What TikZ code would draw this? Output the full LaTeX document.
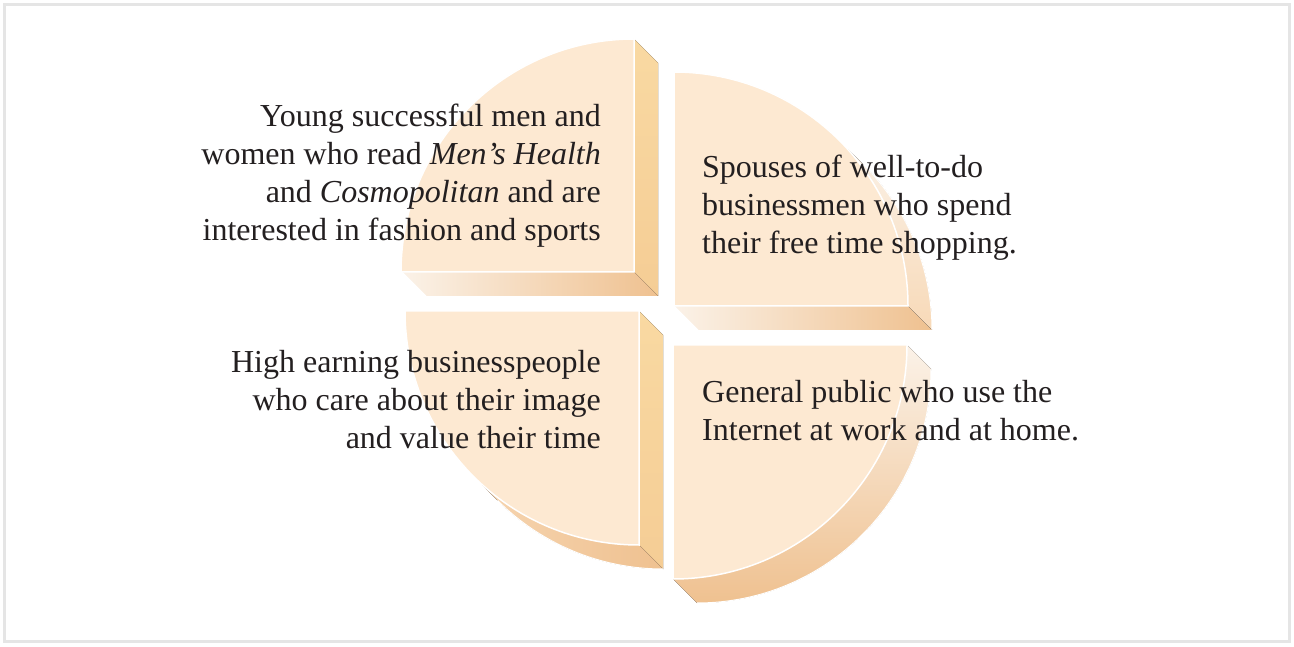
\documentclass[tikz,border=0pt]{standalone}
\usepackage{fontspec}
\setmainfont{Liberation Serif}
\usepackage{xcolor}
\usepackage{tikz}
\usetikzlibrary{calc}
\definecolor{qFace}{HTML}{FDE9D2}
\definecolor{qSideV}{HTML}{F9D9A2}
\definecolor{qSideVDark}{HTML}{F5CD95}
\definecolor{qDark}{HTML}{EFC190}
\definecolor{qPale}{HTML}{FBF2E8}
\definecolor{qText}{HTML}{231F20}
\definecolor{frameGray}{HTML}{E5E5E5}

\begin{document}
\begin{tikzpicture}[x=1pt,y=1pt,
  face/.style={fill=qFace,draw=white,line width=1.5pt,line join=miter},
  sidev/.style={top color=qSideV,bottom color=qSideVDark,draw=none},
  sideh/.style={left color=qPale,right color=qDark,draw=none},
  band/.style={top color=qPale,bottom color=qDark,draw=none},
  rim/.style={draw=white,line width=1pt},
  segtext/.style={font=\fontsize{32}{38}\selectfont,text=qText,inner sep=0pt}
]
\useasboundingbox (0,0) rectangle (1294,646);
\draw[frameGray,line width=2.5pt] (4.5,4.5) rectangle (1289.5,641.5);

% corners of the four quarters
\coordinate (tl) at (634,374);
\coordinate (tr) at (674,340);
\coordinate (bl) at (639,335);
\coordinate (br) at (673,301);

% top left
\fill[sidev] ($(tl)+(0,233)$) -- ++(24,-24) -- ($(tl)+(24,-24)$) -- (tl) -- cycle;
\fill[sideh] ($(tl)+(-232,0)$) -- (tl) -- ++(24,-24) -- ($(tl)+(-208,-24)$) -- cycle;
\draw[rim] ($(tl)+(-232,0)$) -- ($(tl)+(-208,-24)$);
\draw[face] (tl) -- ($(tl)+(0,233)$) arc[start angle=90,end angle=180,radius=233] -- cycle;

% top right
\fill[sideh] (tr) -- ($(tr)+(234,0)$) -- ++(24,-24) -- ($(tr)+(24,-24)$) -- cycle;
\draw[rim] (tr) -- ($(tr)+(24,-24)$);
\fill[top color=qPale,bottom color=qFace!60!qDark] ($(tr)+(45:234)$) arc[start angle=45,end angle=0,radius=234]
  -- ++(24,-24) arc[start angle=0,end angle=45,radius=234] -- cycle;
\draw[rim] ($(tr)+(258,-24)$) arc[start angle=0,end angle=45,radius=234];
\draw[face] (tr) -- ($(tr)+(0,234)$) arc[start angle=90,end angle=0,radius=234] -- cycle;

% bottom left
\fill[sidev] (bl) -- ++(24,-24) -- ($(bl)+(24,-258)$) -- ($(bl)+(0,-234)$) -- cycle;
\fill[left color=qFace!50!qDark,right color=qDark] ($(bl)+(225:234)$) arc[start angle=225,end angle=270,radius=234]
  -- ++(24,-24) arc[start angle=270,end angle=225,radius=234] -- cycle;
\draw[rim] ($(bl)+(24,-258)$) arc[start angle=270,end angle=225,radius=234];
\draw[face] (bl) -- ($(bl)+(0,-234)$) arc[start angle=270,end angle=180,radius=234] -- cycle;

% bottom right
\fill[band] ($(br)+(234,0)$) arc[start angle=0,end angle=-90,radius=234]
  -- ++(24,-24) arc[start angle=-90,end angle=0,radius=234] -- cycle;
\draw[rim] ($(br)+(24,-258)$) arc[start angle=-90,end angle=0,radius=234];
\draw[face] (br) -- ($(br)+(234,0)$) arc[start angle=0,end angle=-90,radius=234] -- cycle;

% labels (base = last line)
\node[segtext,align=right,anchor=base east] (young) at (601,405)
  {Young successful men and\\women who read \emph{Men’s Health}\\and \emph{Cosmopolitan} and are\\interested in fashion and sports};
\node[segtext,align=left,anchor=base west] (spouses) at (702,392)
  {Spouses of well-to-do\\businessmen who spend\\their free time shopping.};
\node[segtext,align=right,anchor=base east] (earning) at (601,197)
  {High earning businesspeople\\who care about their image\\and value their time};
\node[segtext,align=left,anchor=base west] (public) at (702,205)
  {General public who use the\\Internet at work and at home.};
\end{tikzpicture}
\end{document}
